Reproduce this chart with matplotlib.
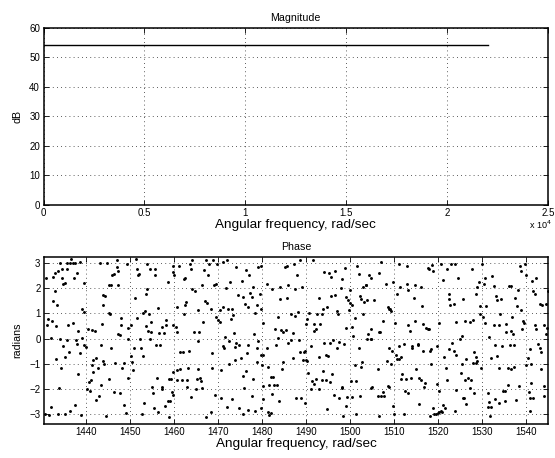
import numpy as np
import matplotlib
matplotlib.use("Agg")
import matplotlib.pyplot as plt

plt.rcParams['font.family'] = ['Liberation Sans', 'DejaVu Sans']

# ---------------- data ----------------
mag_freq = [0, 22050]          # rad/sec
mag_db = [54.1, 54.1]          # dB

mag_xticks = [0, 5000, 10000, 15000, 20000, 25000]
mag_xticklabels = ['0', '0.5', '1', '1.5', '2', '2.5']
mag_yticks = [0, 10, 20, 30, 40, 50, 60]

phase_xticks = [1440, 1450, 1460, 1470, 1480, 1490, 1500, 1510, 1520, 1530, 1540]
phase_yticks = [-3, -2, -1, 0, 1, 2, 3]

# phase samples (frequency rad/sec, phase radians)
phase_pts_a = [
    (1434.1, 3.0), (1435.7, 2.99), (1436.3, 2.99), (1436.7, 3.13), (1437.0, 2.99), (1437.6, 2.99),
    (1438.7, 3.03), (1443.2, 3.0), (1444.8, 2.99), (1447.0, 3.11), (1447.0, 2.83), (1449.3, 2.95),
    (1433.0, 2.61), (1433.6, 2.66), (1434.7, 2.76), (1435.8, 2.76), (1437.9, 2.61), (1432.6, 2.43),
    (1430.9, 2.39), (1434.5, 2.39), (1437.4, 2.39), (1446.4, 2.57), (1447.3, 2.66), (1445.9, 2.53),
    (1435.3, 2.2), (1434.9, 2.17), (1439.5, 2.2), (1445.3, 2.11), (1445.8, 2.14), (1447.2, 2.14),
    (1433.0, 1.87), (1443.8, 1.71), (1444.4, 1.67), (1432.6, 1.47), (1433.4, 1.34), (1444.0, 1.32),
    (1439.1, 1.16), (1439.6, 1.05), (1445.3, 1.01), (1445.5, 0.96), (1448.0, 0.83), (1431.4, 0.79),
    (1432.4, 0.7), (1431.1, 0.55), (1433.2, 0.5), (1436.0, 0.55), (1437.0, 0.62), (1443.6, 0.57),
    (1448.0, 0.53), (1449.6, 0.42), (1438.3, 0.29), (1440.5, 0.37), (1442.0, 0.29), (1441.3, 0.33),
    (1447.3, 0.2), (1447.8, 0.13), (1432.0, 0.03), (1434.1, -0.03), (1435.7, -0.07), (1437.7, -0.07),
    (1439.1, 0.03), (1439.6, -0.26), (1440.0, -0.33), (1449.6, 0.0), (1438.0, -0.2), (1443.4, -0.26),
    (1434.8, -0.29), (1436.2, -0.53), (1445.7, -0.39), (1438.6, -0.59), (1433.3, -0.79), (1435.2, -0.72),
    (1441.6, -0.86), (1442.3, -0.76), (1443.9, -0.89), (1444.2, -0.99), (1446.6, -0.96), (1448.6, -0.96),
    (1441.3, -1.05), (1442.7, -1.16), (1434.3, -1.18), (1448.3, -1.16), (1441.7, -1.32), (1438.3, -1.42),
    (1441.1, -1.62), (1440.8, -1.71), (1445.3, -1.61), (1449.6, -1.54), (1443.4, -1.84), (1433.8, -1.96),
    (1440.2, -1.99), (1446.3, -2.13), (1447.7, -2.17), (1440.9, -2.08), (1443.0, -2.26), (1442.3, -2.43),
    (1448.6, -2.61), (1437.6, -2.61), (1432.2, -2.7), (1430.7, -2.99), (1431.7, -3.03), (1433.7, -3.0),
    (1435.2, -2.99), (1436.3, -2.87), (1439.0, -3.03), (1444.5, -3.07), (1449.1, -2.96),
]

phase_pts_b = [
    (1451.4, 3.13), (1454.0, 2.96), (1459.9, 2.87), (1461.2, 2.89), (1463.6, 2.96), (1464.2, 3.09),
    (1467.3, 3.09), (1468.0, 2.96), (1451.7, 2.74), (1454.5, 2.74), (1455.7, 2.74), (1459.7, 2.63),
    (1460.1, 2.53), (1451.9, 2.5), (1452.1, 2.54), (1455.8, 2.5), (1464.0, 2.76), (1466.9, 2.7),
    (1462.5, 2.41), (1462.2, 2.37), (1467.7, 2.5), (1458.6, 2.24), (1466.3, 2.11), (1464.2, 1.97),
    (1464.8, 1.87), (1453.9, 1.97), (1453.6, 1.78), (1451.2, 1.61), (1467.0, 1.47), (1467.5, 1.41),
    (1462.7, 1.45), (1462.6, 1.32), (1460.8, 1.25), (1456.3, 1.22), (1453.4, 1.08), (1452.9, 1.01),
    (1454.4, 0.96), (1465.5, 1.12), (1462.2, 0.96), (1468.4, 1.16), (1451.6, 0.82), (1458.3, 0.72),
    (1454.8, 0.66), (1458.2, 0.55), (1457.3, 0.46), (1453.7, 0.5), (1466.7, 0.66), (1459.9, 0.55),
    (1460.5, 0.46), (1450.2, 0.55), (1454.2, 0.3), (1454.8, 0.26), (1456.7, 0.24), (1457.7, 0.24),
    (1464.6, 0.26), (1465.8, 0.26), (1460.7, 0.26), (1452.3, 0.0), (1454.5, -0.03), (1465.4, -0.11),
    (1455.9, -0.24), (1456.9, -0.24), (1451.0, -0.39), (1452.5, -0.36), (1461.4, -0.55), (1462.0, -0.53),
    (1463.5, -0.49), (1468.6, -0.59), (1450.2, -0.68), (1453.1, -0.68), (1450.4, -0.92), (1450.8, -1.25),
    (1460.7, -1.25), (1461.4, -1.22), (1463.3, -1.18), (1465.5, -1.22), (1459.9, -1.32), (1456.1, -1.54),
    (1458.9, -1.58), (1459.3, -1.61), (1460.7, -1.64), (1461.8, -1.64), (1463.0, -1.64), (1465.2, -1.61),
    (1465.9, -1.54), (1466.2, -1.68), (1455.0, -1.93), (1457.4, -1.91), (1457.3, -2.0), (1463.1, -1.91),
    (1465.0, -2.0), (1466.3, -1.97), (1455.2, -2.17), (1459.9, -2.24), (1463.9, -2.3), (1459.5, -2.13),
    (1458.6, -2.46), (1459.1, -2.46), (1453.3, -2.53), (1458.0, -2.67), (1455.5, -2.74), (1452.7, -2.99),
    (1456.3, -2.92), (1458.8, -3.11), (1467.4, -3.12), (1468.4, -2.89),
]

phase_pts_c = [
    (1468.9, 3.09), (1469.9, 2.96), (1471.2, 3.03), (1472.0, 3.09), (1474.2, 2.83), (1476.5, 2.7),
    (1477.0, 2.53), (1479.2, 2.83), (1479.9, 2.86), (1485.2, 2.83), (1485.8, 2.87), (1487.3, 2.96),
    (1469.5, 2.17), (1469.2, 2.11), (1471.8, 2.0), (1472.7, 2.24), (1475.4, 2.26), (1478.0, 2.04),
    (1481.1, 2.17), (1482.4, 1.97), (1484.1, 2.04), (1486.0, 2.11), (1487.5, 1.97), (1474.5, 1.74),
    (1475.6, 1.64), (1477.3, 1.82), (1477.7, 1.64), (1479.5, 1.78), (1484.1, 1.55), (1485.8, 1.61),
    (1476.1, 1.38), (1476.9, 1.25), (1479.0, 1.34), (1479.9, 1.16), (1471.2, 1.25), (1472.2, 1.18),
    (1473.3, 1.18), (1470.5, 1.12), (1473.5, 0.92), (1473.0, 0.76), (1478.4, 1.03), (1469.5, 0.86),
    (1470.1, 0.72), (1470.5, 0.66), (1480.3, 0.63), (1483.7, 0.86), (1486.6, 0.99), (1487.5, 0.88),
    (1483.0, 0.37), (1484.3, 0.33), (1484.8, 0.26), (1485.4, 0.33), (1487.1, 0.24), (1478.2, 0.18),
    (1473.6, 0.22), (1471.6, 0.07), (1472.5, -0.11), (1471.1, -0.3), (1471.4, -0.37), (1474.2, -0.16),
    (1474.8, -0.26), (1474.0, -0.33), (1476.9, -0.24), (1479.2, -0.11), (1478.8, -0.36), (1481.1, -0.37),
    (1483.6, 0.03), (1483.3, -0.26), (1486.0, -0.16), (1486.7, -0.07), (1475.2, -0.76), (1473.9, -0.86),
    (1476.7, -0.57), (1479.7, -0.66), (1480.3, -0.66), (1484.8, -0.92), (1487.0, -0.76), (1472.6, -1.01),
    (1478.8, -0.92), (1481.3, -1.12), (1480.1, -1.05), (1468.7, -1.18), (1470.6, -1.25), (1476.3, -1.28),
    (1484.6, -1.22), (1475.8, -1.47), (1482.0, -1.51), (1482.6, -1.51), (1477.9, -1.61), (1481.7, -1.84),
    (1482.8, -1.84), (1483.5, -1.84), (1480.2, -1.87), (1476.0, -1.97), (1469.3, -2.24), (1470.8, -2.34),
    (1473.3, -2.41), (1477.7, -2.28), (1482.2, -2.21), (1480.2, -2.41), (1483.9, -2.46), (1487.7, -2.34),
    (1472.1, -2.7), (1474.8, -2.76), (1476.9, -2.83), (1479.7, -2.76), (1475.8, -3.0), (1478.4, -2.88),
    (1481.3, -2.92), (1481.7, -3.03), (1482.0, -2.96),
]

phase_pts_d = [
    (1488.6, 3.09), (1491.6, 3.09), (1488.0, 2.53), (1494.2, 2.63), (1495.2, 2.61), (1496.6, 2.67),
    (1498.8, 2.79), (1495.8, 2.43), (1498.1, 2.37), (1501.7, 2.87), (1502.0, 2.57), (1504.3, 2.53),
    (1504.7, 2.39), (1506.7, 2.61), (1489.2, 2.04), (1497.9, 2.01), (1500.0, 1.91), (1503.0, 2.04),
    (1503.6, 2.14), (1503.7, 2.11), (1493.0, 1.62), (1495.8, 1.67), (1496.7, 1.71), (1499.2, 1.64),
    (1499.6, 1.51), (1502.4, 1.67), (1502.6, 1.58), (1503.3, 1.45), (1503.9, 1.51), (1505.5, 1.51),
    (1500.0, 1.41), (1500.4, 1.34), (1494.7, 1.25), (1493.9, 1.16), (1493.7, 0.96), (1492.6, 0.96),
    (1488.3, 1.05), (1490.8, 1.03), (1497.0, 1.08), (1497.3, 0.96), (1499.8, 1.12), (1501.1, 0.82),
    (1490.2, 0.79), (1503.0, 0.99), (1490.1, 0.59), (1491.8, 0.57), (1493.1, 0.57), (1492.2, 0.37),
    (1491.8, 0.29), (1499.0, 0.43), (1500.5, 0.46), (1504.9, 0.39), (1504.2, 0.2), (1506.7, 0.26),
    (1488.4, -0.07), (1494.1, -0.16), (1495.5, -0.16), (1496.2, -0.04), (1497.5, -0.13), (1498.6, -0.2),
    (1497.1, -0.39), (1500.8, 0.11), (1503.9, 0.0), (1504.7, -0.03), (1504.9, -0.03), (1502.0, -0.39),
    (1488.6, -0.55), (1489.5, -0.55), (1489.9, -0.5), (1491.2, -0.29), (1493.0, -0.72), (1494.5, -0.66),
    (1495.1, -0.7), (1489.4, -0.86), (1490.1, -0.86), (1490.3, -0.89), (1501.1, -1.03), (1502.8, -0.92),
    (1502.6, -1.12), (1506.4, -1.21), (1493.9, -1.28), (1490.5, -1.36), (1496.0, -1.41), (1492.2, -1.58),
    (1491.4, -1.68), (1491.8, -1.78), (1493.6, -1.64), (1494.5, -1.64), (1495.5, -1.71), (1500.2, -1.67),
    (1501.4, -1.67), (1498.1, -1.97), (1498.3, -1.91), (1491.1, -2.01), (1493.0, -2.01), (1504.9, -1.95),
    (1505.1, -1.91), (1488.8, -2.37), (1489.8, -2.54), (1496.4, -2.24), (1497.5, -2.37), (1499.4, -2.33),
    (1500.5, -2.33), (1502.4, -2.28), (1506.4, -2.28), (1499.2, -2.66), (1494.8, -2.79), (1498.4, -3.07),
    (1501.3, -2.99), (1506.6, -3.07),
]

phase_pts_e = [
    (1507.0, 3.03), (1511.1, 2.96), (1513.0, 2.86), (1517.7, 2.79), (1518.0, 2.74), (1518.9, 2.66),
    (1518.6, 2.92), (1520.7, 2.96), (1523.0, 2.96), (1523.9, 2.96), (1522.0, 2.74), (1524.5, 2.39),
    (1508.2, 2.17), (1509.7, 2.24), (1511.4, 2.04), (1512.9, 2.17), (1513.3, 1.91), (1514.8, 2.14),
    (1516.1, 2.04), (1510.7, 1.78), (1514.5, 1.62), (1521.1, 2.3), (1522.4, 1.78), (1522.4, 1.55),
    (1523.6, 1.38), (1522.7, 1.32), (1525.6, 1.58), (1516.4, 1.29), (1508.6, 1.25), (1508.8, 1.18),
    (1509.1, 1.16), (1509.3, 1.09), (1507.6, 0.68), (1510.2, 0.63), (1513.1, 0.55), (1514.8, 0.68),
    (1516.7, 0.59), (1517.3, 0.42), (1517.7, 0.37), (1518.0, 0.37), (1520.3, 0.62), (1524.1, 0.66),
    (1513.7, 0.3), (1506.8, 0.26), (1525.5, 0.11), (1525.0, -0.03), (1523.2, -0.16), (1522.4, -0.42),
    (1523.6, -0.5), (1524.1, -0.66), (1519.8, -0.3), (1518.4, -0.42), (1518.2, -0.49), (1516.5, -0.49),
    (1515.5, -0.2), (1515.4, -0.26), (1514.1, -0.29), (1514.2, -0.36), (1512.3, -0.22), (1511.1, -0.29),
    (1509.5, -0.49), (1508.9, -0.39), (1510.5, -0.66), (1510.6, -0.79), (1511.6, -0.72), (1511.1, -0.82),
    (1509.3, -1.01), (1508.4, -0.88), (1521.4, -0.72), (1518.4, -0.99), (1525.4, -0.99), (1515.0, -1.21),
    (1521.8, -1.16), (1525.2, -1.36), (1511.8, -1.41), (1511.6, -1.58), (1512.7, -1.58), (1513.9, -1.54),
    (1515.8, -1.54), (1516.1, -1.62), (1522.0, -1.64), (1517.1, -1.75), (1516.9, -1.91), (1508.6, -1.87),
    (1508.9, -1.91), (1507.6, -2.11), (1507.0, -2.26), (1507.8, -2.26), (1512.6, -2.08), (1513.3, -2.17),
    (1519.7, -1.78), (1520.3, -2.08), (1524.1, -2.04), (1525.8, -2.34), (1509.7, -2.66), (1515.6, -2.57),
    (1521.1, -2.61), (1521.7, -2.74), (1518.9, -2.76), (1520.7, -2.87), (1523.9, -2.87), (1510.1, -2.99),
    (1512.2, -3.0), (1518.2, -3.07), (1519.2, -3.0), (1519.5, -2.99), (1519.9, -2.96), (1520.3, -2.92),
    (1520.9, -2.89),
]

phase_pts_f = [
    (1530.1, 2.96), (1527.7, 2.76), (1538.6, 2.89), (1539.7, 2.96), (1538.8, 2.66), (1540.1, 2.53),
    (1530.6, 2.39), (1532.3, 2.47), (1530.4, 2.17), (1529.3, 2.24), (1528.9, 2.04), (1532.7, 2.08),
    (1536.1, 2.07), (1536.5, 2.07), (1538.2, 1.93), (1541.4, 2.26), (1542.3, 2.39), (1541.7, 1.87),
    (1542.1, 1.78), (1544.9, 1.87), (1528.6, 1.78), (1533.1, 1.68), (1533.4, 1.54), (1534.4, 1.55),
    (1537.6, 1.61), (1543.1, 1.38), (1543.7, 1.32), (1544.6, 1.38), (1529.6, 1.29), (1531.0, 1.28),
    (1538.0, 1.28), (1538.9, 1.12), (1534.2, 0.99), (1529.5, 0.96), (1530.2, 0.86), (1536.9, 0.86),
    (1539.3, 0.68), (1539.5, 0.63), (1539.2, 0.39), (1526.1, 0.68), (1527.2, 0.66), (1528.0, 0.72),
    (1530.8, 0.63), (1532.7, 0.55), (1533.9, 0.53), (1535.5, 0.57), (1535.4, 0.26), (1536.7, 0.3),
    (1537.0, 0.17), (1542.0, 0.55), (1542.3, 0.37), (1544.2, 0.55), (1544.8, 0.42), (1544.5, 0.2),
    (1531.7, 0.07), (1532.9, -0.24), (1534.6, -0.29), (1536.3, -0.26), (1537.3, -0.26), (1542.7, -0.2),
    (1543.1, -0.36), (1543.5, -0.53), (1541.0, -0.43), (1528.3, -0.55), (1528.7, -0.72), (1526.4, -0.79),
    (1528.0, -0.96), (1528.6, -0.95), (1528.9, -0.89), (1529.8, -1.16), (1532.1, -0.75), (1533.5, -0.7),
    (1540.5, -0.75), (1541.1, -1.01), (1540.1, -1.03), (1533.8, -1.16), (1535.9, -1.16), (1536.7, -1.21),
    (1537.2, -1.12), (1543.3, -1.21), (1526.8, -1.55), (1527.4, -1.62), (1526.1, -1.64), (1535.9, -1.82),
    (1538.4, -1.88), (1541.2, -1.75), (1544.1, -1.88), (1527.2, -1.97), (1528.3, -2.17), (1525.9, -2.37),
    (1531.4, -2.17), (1534.8, -2.08), (1535.2, -2.08), (1540.7, -2.13), (1540.8, -2.34), (1541.6, -2.34),
    (1544.2, -2.26), (1526.3, -2.57), (1531.7, -2.5), (1532.9, -2.41), (1533.9, -2.53), (1535.2, -2.46),
    (1537.8, -2.43), (1531.4, -2.7), (1532.1, -2.7), (1540.8, -2.87), (1531.9, -3.05),
]

# ---------------- figure ----------------
W, H = 555, 458
fig = plt.figure(figsize=(W / 100, H / 100), dpi=100)
fig.patch.set_facecolor('white')

tick_fs = 7
title_fs = 7.7
xlabel_fs = 9.7
ylabel_fs = 7.7


def style_axes(ax):
    for s in ax.spines.values():
        s.set_linewidth(1.1)
        s.set_color('black')
    ax.tick_params(direction='in', length=3.5, width=0.6, top=True, right=True,
                   labelsize=tick_fs, pad=2.5, colors='black')
    ax.grid(True, linestyle=(0, (1, 4)), color='black', linewidth=0.6, alpha=0.85)
    ax.set_axisbelow(True)


# Magnitude
ax1 = fig.add_axes([43.5 / W, 1 - 205 / H, (548 - 43.5) / W, (205 - 27.6) / H])
ax1.plot(mag_freq, mag_db, color='black', linewidth=1.0)
ax1.set_xlim(0, 25000)
ax1.set_ylim(0, 60)
ax1.set_xticks(mag_xticks)
ax1.set_xticklabels(mag_xticklabels)
ax1.set_yticks(mag_yticks)
style_axes(ax1)
ax1.set_title('Magnitude', fontsize=title_fs, pad=5)
ax1.set_xlabel('Angular frequency, rad/sec', fontsize=xlabel_fs, labelpad=0.5)
ax1.set_ylabel('dB', fontsize=ylabel_fs, labelpad=5)
fig.text(540 / W, 1 - 225 / H, r'x 10$^{4}$', fontsize=6.5, ha='center', va='center')

# Phase
phase = np.array(phase_pts_a + phase_pts_b + phase_pts_c + phase_pts_d + phase_pts_e + phase_pts_f)
ax2 = fig.add_axes([44 / W, 1 - 423.5 / H, (548 - 44) / W, (423.5 - 256.7) / H])
ax2.plot(phase[:, 0], phase[:, 1], linestyle='none', marker='o', markersize=2.1,
         color='black', markeredgewidth=0)
ax2.set_xlim(1430.5, 1545)
ax2.set_ylim(-3.36, 3.24)
ax2.set_xticks(phase_xticks)
ax2.set_yticks(phase_yticks)
style_axes(ax2)
ax2.set_title('Phase', fontsize=title_fs, pad=5)
ax2.set_xlabel('Angular frequency, rad/sec', fontsize=xlabel_fs, labelpad=0.5)
ax2.set_ylabel('radians', fontsize=ylabel_fs, labelpad=5)

fig.savefig('out.png', dpi=100, facecolor='white')
